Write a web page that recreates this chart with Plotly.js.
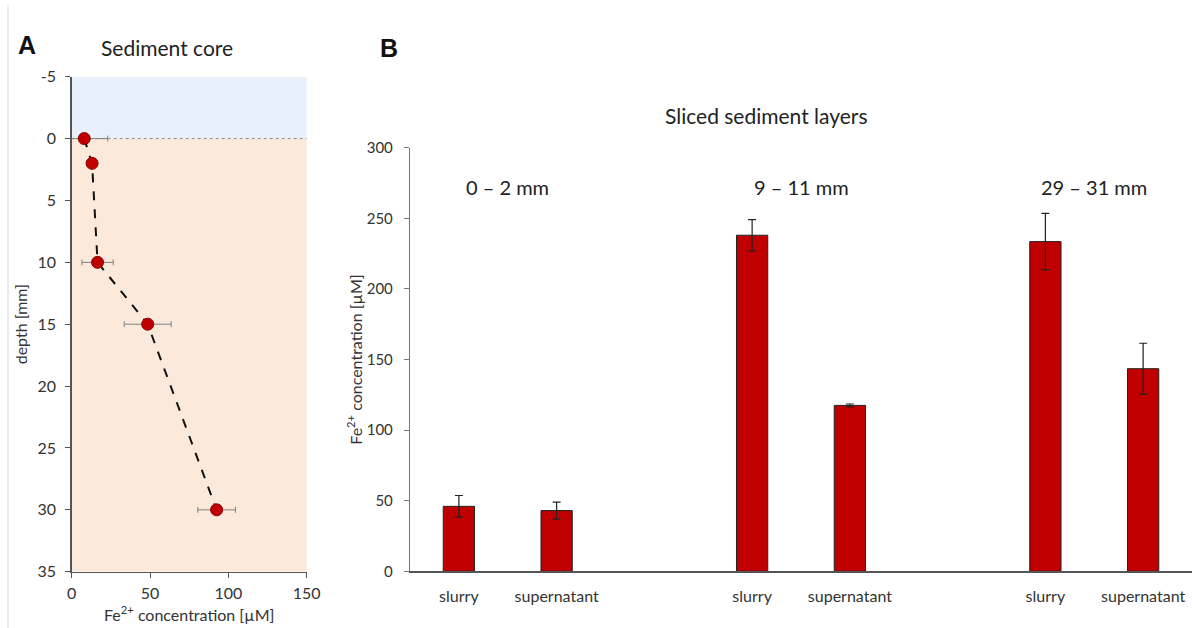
<!DOCTYPE html>
<html>
<head>
<meta charset="utf-8">
<script src="https://cdn.plot.ly/plotly-3.0.1.min.js"></script>
<style>html,body{margin:0;padding:0;background:#fff;}#chart{width:1192px;height:628px;}</style>
</head>
<body>
<div id="chart"></div>
<script>
// ---------- Panel A: sediment core profile ----------
const coreDepth = [0, 2, 10, 15, 30];            // depth [mm]
const coreFe    = [8, 13, 16.5, 48.5, 92.5];     // Fe2+ concentration [µM]
const coreFeErr = [15, 2, 10, 15, 12];           // ± error [µM]
const depthTicks = [-5, 0, 5, 10, 15, 20, 25, 30, 35];
const depthTickText = ["-5", "0", "5", "10", "15", "20", "25", "30", "35"];
const coreFeTicks = [0, 50, 100, 150];

// ---------- Panel B: sliced sediment layers ----------
const layers    = ["0 – 2 mm", "9 – 11 mm", "29 – 31 mm"];
const fractions = ["slurry", "supernatant"];
const slurryFe       = [46, 238, 233.5];
const slurryFeErr    = [7.7, 11, 20];
const supernatantFe  = [43, 117.5, 143.5];
const supernatantErr = [6, 1, 18];
const sliceTicks = [0, 50, 100, 150, 200, 250, 300];

const FONT = "Lato, 'Open Sans', sans-serif";
const TXT = "#333333";
const RED = "#C00000";

// category positions: two bars per layer, one empty slot between layers
const slot = 3;
const slurryX = layers.map((_, i) => i * slot);
const supX    = layers.map((_, i) => i * slot + 1);
const tickX = [], tickT = [];
layers.forEach((_, i) => { tickX.push(slurryX[i], supX[i]); tickT.push(fractions[0], fractions[1]); });

const traces = [
  {
    type: "scatter", mode: "lines+markers",
    x: coreFe, y: coreDepth, xaxis: "x", yaxis: "y",
    line: {color: "#111111", width: 2, dash: "dash"},
    marker: {size: 12, color: RED, line: {color: "#8B0000", width: 1}},
    error_x: {type: "data", array: coreFeErr, visible: true, color: "#808080", thickness: 1, width: 3},
    showlegend: false, hoverinfo: "x+y"
  },
  {
    type: "bar", name: fractions[0],
    x: slurryX, y: slurryFe, xaxis: "x2", yaxis: "y2", width: 0.32,
    marker: {color: RED, line: {color: "#222222", width: 1}},
    error_y: {type: "data", array: slurryFeErr, visible: true, color: "#222222", thickness: 1.2, width: 4},
    showlegend: false
  },
  {
    type: "bar", name: fractions[1],
    x: supX, y: supernatantFe, xaxis: "x2", yaxis: "y2", width: 0.32,
    marker: {color: RED, line: {color: "#222222", width: 1}},
    error_y: {type: "data", array: supernatantErr, visible: true, color: "#222222", thickness: 1.2, width: 4},
    showlegend: false
  }
];

const W = 1192, H = 628;
const px = v => v / W, py = v => 1 - v / H;

const layerAnn = layers.map((t, i) => ({
  text: t, xref: "x2", yref: "y2", x: i * slot + 0.5, y: 272, xanchor: "center", yanchor: "middle",
  showarrow: false, font: {family: FONT, size: 20, color: "#222"}
}));

const layout = {
  width: W, height: H, autosize: false,
  margin: {l: 0, r: 0, t: 0, b: 0},
  paper_bgcolor: "#ffffff", plot_bgcolor: "rgba(0,0,0,0)",
  font: {family: FONT, color: TXT},
  bargap: 0,
  xaxis: {
    domain: [px(71.7), px(306.7)], anchor: "y", range: [0, 150],
    tickvals: coreFeTicks, ticks: "outside", ticklen: 5, tickcolor: "#555",
    showline: true, linecolor: "#555", linewidth: 1.5, showgrid: false, zeroline: false,
    tickfont: {size: 16, color: TXT}, ticklabelstandoff: 2,
    title: {text: "Fe<sup>2+</sup> concentration [µM]", font: {size: 16, color: TXT}, standoff: 8}
  },
  yaxis: {
    domain: [py(571.7), py(76.7)], anchor: "x", range: [35, -5],
    tickvals: depthTicks, ticktext: depthTickText, ticks: "outside", ticklen: 5, tickcolor: "#555",
    showline: true, linecolor: "#555", linewidth: 1.5, showgrid: false, zeroline: false,
    tickfont: {size: 16, color: TXT}, ticklabelstandoff: 6,
    title: {text: "depth [mm]", font: {size: 16, color: TXT}, standoff: 6}
  },
  xaxis2: {
    domain: [px(410), 1], anchor: "y2", range: [-0.5, 7.5],
    tickvals: tickX, ticktext: tickT, ticks: "", showline: true, linecolor: "#555", linewidth: 1.5,
    showgrid: false, zeroline: false, tickfont: {size: 16, color: TXT}, ticklabelstandoff: 10
  },
  yaxis2: {
    domain: [py(571.3), py(147.7)], anchor: "x2", range: [0, 300],
    tickvals: sliceTicks, ticks: "outside", ticklen: 5, tickcolor: "#777",
    showline: true, linecolor: "#777", linewidth: 1.2, showgrid: false, zeroline: false,
    tickfont: {size: 15, color: TXT}, ticklabelstandoff: 8,
    title: {text: "Fe<sup>2+</sup> concentration [µM]", font: {size: 16, color: TXT}, standoff: 0}
  },
  shapes: [
    {type: "rect", xref: "x", yref: "y", x0: 0, x1: 150, y0: -5, y1: 0, fillcolor: "#E8F0F9", line: {width: 0}, layer: "below"},
    {type: "rect", xref: "x", yref: "y", x0: 0, x1: 150, y0: 0, y1: 35, fillcolor: "#FBE9DC", line: {width: 0}, layer: "below"},
    {type: "line", xref: "x", yref: "y", x0: 0, x1: 150, y0: 0, y1: 0, line: {color: "#888", width: 1, dash: "dot"}, layer: "below"},
    {type: "line", xref: "paper", yref: "paper", x0: px(8), x1: px(8), y0: 0, y1: py(5), line: {color: "#D8D8D8", width: 1}}
  ],
  annotations: [
    {text: "<b>A</b>", xref: "paper", yref: "paper", x: px(27), y: py(45), xanchor: "center", yanchor: "middle", showarrow: false, font: {family: "Liberation Sans, Arial, sans-serif", size: 25, color: "#111"}},
    {text: "<b>B</b>", xref: "paper", yref: "paper", x: px(389), y: py(48), xanchor: "center", yanchor: "middle", showarrow: false, font: {family: "Liberation Sans, Arial, sans-serif", size: 25, color: "#111"}},
    {text: "Sediment core", xref: "paper", yref: "paper", x: px(167), y: py(47), xanchor: "center", yanchor: "middle", showarrow: false, font: {size: 21, color: "#222"}},
    {text: "Sliced sediment layers", xref: "paper", yref: "paper", x: px(766), y: py(116), xanchor: "center", yanchor: "middle", showarrow: false, font: {size: 21, color: "#222"}}
  ].concat(layerAnn)
};

Plotly.newPlot("chart", traces, layout, {displayModeBar: false, staticPlot: true});
</script>
</body>
</html>
